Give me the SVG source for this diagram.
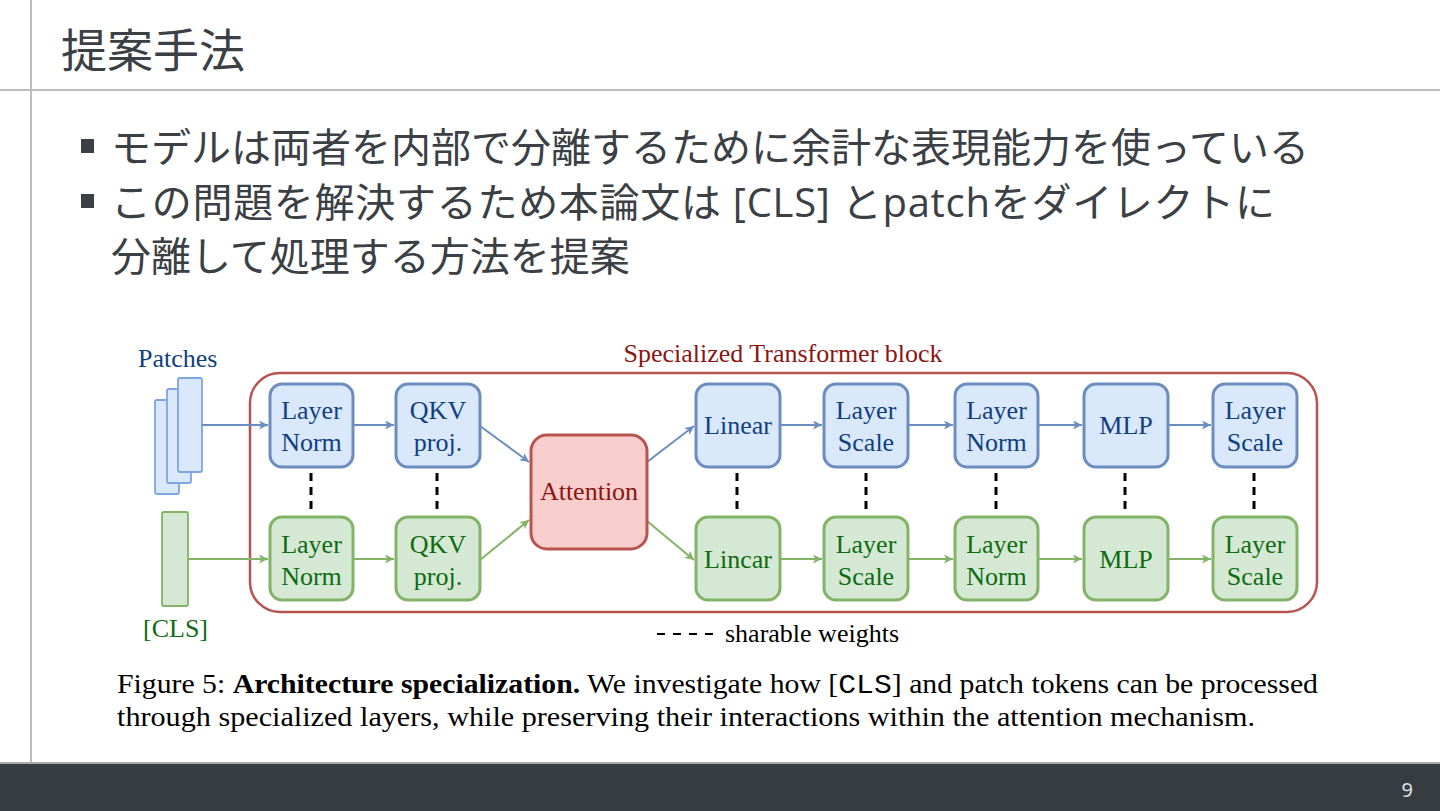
<svg xmlns="http://www.w3.org/2000/svg" width="1440" height="811" viewBox="0 0 1440 811">
<style>
.jp{font-family:"Open Sans","Noto Sans CJK JP",sans-serif;fill:#3b4045}
.serif{font-family:"Liberation Serif","Times New Roman",serif;font-size:26px}
.bt{fill:#0f3f7f}
.gt{fill:#0d6b12}
.bn{fill:#dae8fc;stroke:#6c8ebf;stroke-width:3}
.gn{fill:#d5e8d4;stroke:#82b366;stroke-width:3}
.ba{stroke:#6c8ebf;stroke-width:2;fill:none;marker-end:url(#ab)}
.ga{stroke:#82b366;stroke-width:2;fill:none;marker-end:url(#ag)}
.sh{stroke:#000;stroke-width:3;stroke-dasharray:8 6}
</style>
<defs>
<marker id="ab" viewBox="0 0 10 10" refX="10" refY="5" markerWidth="10" markerHeight="9" markerUnits="userSpaceOnUse" orient="auto"><path d="M0,0 L10,5 L0,10 L2.5,5 Z" fill="#6c8ebf"/></marker>
<marker id="ag" viewBox="0 0 10 10" refX="10" refY="5" markerWidth="10" markerHeight="9" markerUnits="userSpaceOnUse" orient="auto"><path d="M0,0 L10,5 L0,10 L2.5,5 Z" fill="#82b366"/></marker>
</defs>
<rect width="1440" height="811" fill="#ffffff"/>
<line x1="31" y1="0" x2="31" y2="763" stroke="#bdbdbd" stroke-width="2"/>
<line x1="0" y1="90" x2="1440" y2="90" stroke="#bdbdbd" stroke-width="2"/>
<text class="jp" x="61" y="67" font-size="46">提案手法</text>
<rect x="81" y="139" width="13" height="14" fill="#3b4045"/>
<rect x="81" y="194" width="13" height="14" fill="#3b4045"/>
<text class="jp" x="111" y="162" font-size="40">モデルは両者を内部で分離するために余計な表現能力を使っている</text>
<text class="jp" x="111" y="217" font-size="40" textLength="1164" lengthAdjust="spacing">この問題を解決するため本論文は [CLS] とpatchをダイレクトに</text>
<text class="jp" x="111" y="271" font-size="40">分離して処理する方法を提案</text>

<g id="container">
<rect x="250" y="373" width="1067" height="239" rx="30" fill="none" stroke="#b85450" stroke-width="2.5"/>
<text class="serif" x="783" y="362" text-anchor="middle" fill="#8b1414">Specialized Transformer block</text>
</g>
<g id="patches">
<text class="serif bt" x="138" y="367">Patches</text>
<rect x="155" y="400" width="24" height="94" rx="2" fill="#dae8fc" stroke="#7ea6e0" stroke-width="1.8"/>
<rect x="167" y="389" width="24" height="94" rx="2" fill="#dae8fc" stroke="#7ea6e0" stroke-width="1.8"/>
<rect x="178" y="378" width="24" height="94" rx="2" fill="#dae8fc" stroke="#7ea6e0" stroke-width="1.8"/>
</g>
<g id="cls">
<rect x="162" y="512" width="26" height="94" rx="2" fill="#d5e8d4" stroke="#82b366" stroke-width="1.8"/>
<text class="serif gt" x="143" y="637">[CLS]</text>
</g>

<g id="connectors">
<line class="ba" x1="202" y1="425" x2="268" y2="425"/>
<line class="ba" x1="353" y1="425" x2="394" y2="425"/>
<line class="ba" x1="480" y1="426" x2="529" y2="462"/>
<line class="ba" x1="647" y1="462" x2="694" y2="426"/>
<line class="ba" x1="780" y1="425" x2="822" y2="425"/>
<line class="ba" x1="908" y1="425" x2="953" y2="425"/>
<line class="ba" x1="1038" y1="425" x2="1082" y2="425"/>
<line class="ba" x1="1168" y1="425" x2="1211" y2="425"/>
<line class="ga" x1="188" y1="559" x2="268" y2="559"/>
<line class="ga" x1="353" y1="559" x2="394" y2="559"/>
<line class="ga" x1="480" y1="560" x2="529" y2="520"/>
<line class="ga" x1="647" y1="521" x2="694" y2="560"/>
<line class="ga" x1="780" y1="559" x2="822" y2="559"/>
<line class="ga" x1="908" y1="559" x2="953" y2="559"/>
<line class="ga" x1="1038" y1="559" x2="1082" y2="559"/>
<line class="ga" x1="1168" y1="559" x2="1211" y2="559"/>
<line class="sh" x1="311" y1="473" x2="311" y2="512"/>
<line class="sh" x1="437" y1="473" x2="437" y2="512"/>
<line class="sh" x1="737" y1="473" x2="737" y2="512"/>
<line class="sh" x1="866" y1="473" x2="866" y2="512"/>
<line class="sh" x1="996" y1="473" x2="996" y2="512"/>
<line class="sh" x1="1125" y1="473" x2="1125" y2="512"/>
<line class="sh" x1="1254" y1="473" x2="1254" y2="512"/>
</g>

<g id="b-ln1"><rect class="bn" x="270" y="384" width="83" height="83" rx="12"/><text class="serif bt" x="311.5" y="419" text-anchor="middle">Layer</text><text class="serif bt" x="311.5" y="451" text-anchor="middle">Norm</text></g>
<g id="b-qkv"><rect class="bn" x="396" y="384" width="84" height="83" rx="12"/><text class="serif bt" x="438" y="419" text-anchor="middle">QKV</text><text class="serif bt" x="438" y="451" text-anchor="middle">proj.</text></g>
<g id="b-lin"><rect class="bn" x="696" y="384" width="84" height="83" rx="12"/><text class="serif bt" x="738" y="434" text-anchor="middle">Linear</text></g>
<g id="b-ls1"><rect class="bn" x="824" y="384" width="84" height="83" rx="12"/><text class="serif bt" x="866" y="419" text-anchor="middle">Layer</text><text class="serif bt" x="866" y="451" text-anchor="middle">Scale</text></g>
<g id="b-ln2"><rect class="bn" x="955" y="384" width="83" height="83" rx="12"/><text class="serif bt" x="996.5" y="419" text-anchor="middle">Layer</text><text class="serif bt" x="996.5" y="451" text-anchor="middle">Norm</text></g>
<g id="b-mlp"><rect class="bn" x="1084" y="384" width="84" height="83" rx="12"/><text class="serif bt" x="1126" y="434" text-anchor="middle">MLP</text></g>
<g id="b-ls2"><rect class="bn" x="1213" y="384" width="84" height="83" rx="12"/><text class="serif bt" x="1255" y="419" text-anchor="middle">Layer</text><text class="serif bt" x="1255" y="451" text-anchor="middle">Scale</text></g>

<g id="attention"><rect x="531" y="435" width="116" height="114" rx="16" fill="#f8cecc" stroke="#b85450" stroke-width="3"/><text class="serif" x="589" y="500" text-anchor="middle" fill="#8b1414">Attention</text></g>

<g id="g-ln1"><rect class="gn" x="270" y="517" width="83" height="83" rx="12"/><text class="serif gt" x="311.5" y="553" text-anchor="middle">Layer</text><text class="serif gt" x="311.5" y="585" text-anchor="middle">Norm</text></g>
<g id="g-qkv"><rect class="gn" x="396" y="517" width="84" height="83" rx="12"/><text class="serif gt" x="438" y="553" text-anchor="middle">QKV</text><text class="serif gt" x="438" y="585" text-anchor="middle">proj.</text></g>
<g id="g-lin"><rect class="gn" x="696" y="517" width="84" height="83" rx="12"/><text class="serif gt" x="738" y="568" text-anchor="middle">Lincar</text></g>
<g id="g-ls1"><rect class="gn" x="824" y="517" width="84" height="83" rx="12"/><text class="serif gt" x="866" y="553" text-anchor="middle">Layer</text><text class="serif gt" x="866" y="585" text-anchor="middle">Scale</text></g>
<g id="g-ln2"><rect class="gn" x="955" y="517" width="83" height="83" rx="12"/><text class="serif gt" x="996.5" y="553" text-anchor="middle">Layer</text><text class="serif gt" x="996.5" y="585" text-anchor="middle">Norm</text></g>
<g id="g-mlp"><rect class="gn" x="1084" y="517" width="84" height="83" rx="12"/><text class="serif gt" x="1126" y="568" text-anchor="middle">MLP</text></g>
<g id="g-ls2"><rect class="gn" x="1213" y="517" width="84" height="83" rx="12"/><text class="serif gt" x="1255" y="553" text-anchor="middle">Layer</text><text class="serif gt" x="1255" y="585" text-anchor="middle">Scale</text></g>

<g id="legend">
<line x1="657" y1="634" x2="713" y2="634" stroke="#000" stroke-width="2" stroke-dasharray="8 8"/>
<text x="725" y="642" font-family="Liberation Serif, serif" font-size="26" fill="#000">sharable weights</text>
</g>

<g id="caption">
<text x="117" y="693" font-family="Liberation Serif, serif" font-size="28" fill="#000" textLength="1201" lengthAdjust="spacingAndGlyphs">Figure 5: <tspan font-weight="bold">Architecture specialization.</tspan> We investigate how [<tspan font-family="Liberation Mono, monospace">CLS</tspan>] and patch tokens can be processed</text>
<text x="117" y="726" font-family="Liberation Serif, serif" font-size="28" fill="#000" textLength="1138" lengthAdjust="spacingAndGlyphs">through specialized layers, while preserving their interactions within the attention mechanism.</text>
</g>

<rect x="0" y="763" width="1440" height="48" fill="#373c40"/>
<line x1="0" y1="763" x2="1440" y2="763" stroke="#a9a9a9" stroke-width="2"/>
<text x="1413" y="797" font-family="Open Sans, sans-serif" font-size="20" fill="#e6e6e6" text-anchor="end">9</text>
</svg>
